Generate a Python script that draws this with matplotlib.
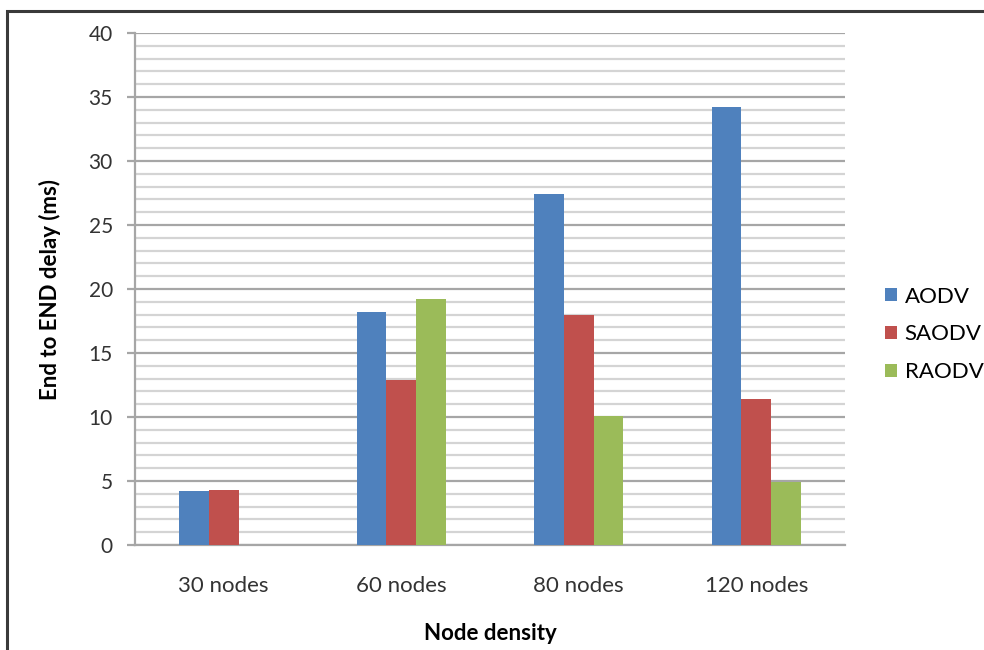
import matplotlib.pyplot as plt
from matplotlib.patches import Rectangle
import numpy as np

plt.rcParams['font.family'] = ['Lato', 'DejaVu Sans']

categories = ["30 nodes", "60 nodes", "80 nodes", "120 nodes"]
aodv = [4.2, 18.2, 27.4, 34.2]
saodv = [4.3, 12.9, 18.0, 11.4]
raodv = [0, 19.2, 10.1, 4.9]

series = [("AODV", aodv, "#4F81BD"),
          ("SAODV", saodv, "#C0504D"),
          ("RAODV", raodv, "#9BBB59")]

fig = plt.figure(figsize=(9.84, 6.5), dpi=100)
ax = fig.add_axes([0.1372, 0.1615, 0.7215, 0.7877])

x = np.arange(len(categories))
w = 1 / 6
for i, (name, vals, col) in enumerate(series):
    ax.bar(x + (i - 1) * w, vals, width=w, color=col, label=name, zorder=3)

ax.set_xlim(-0.5, 3.5)
ax.set_ylim(0, 40)
ax.set_yticks(range(0, 41, 5))
ax.set_yticks(range(0, 41, 1), minor=True)
ax.set_xticks(x)
ax.set_xticklabels(categories, fontsize=16, color="#333333")
ax.tick_params(axis='y', which='major', length=6, width=1.6, color="#a6a6a6",
               labelsize=15, pad=10, labelcolor="#333333")
ax.tick_params(axis='y', which='minor', length=0)
ax.tick_params(axis='x', length=0, pad=22)

ax.grid(axis='y', which='major', color="#a6a6a6", lw=1.6, zorder=0)
ax.grid(axis='y', which='minor', color="#d4d4d4", lw=1.6, zorder=0)

for s in ['top', 'right']:
    ax.spines[s].set_visible(False)
for s in ['left', 'bottom']:
    ax.spines[s].set_color("#a6a6a6")
    ax.spines[s].set_linewidth(1.6)

ax.set_ylabel("End to END delay (ms)", fontsize=16, fontweight='bold', labelpad=20)
ax.set_xlabel("Node density", fontsize=16, fontweight='bold', labelpad=20)

ax.legend(loc='center left', bbox_to_anchor=(0.899, 0.4857),
          bbox_transform=fig.transFigure, frameon=False, borderaxespad=0,
          borderpad=0, fontsize=16, handlelength=0.55, handleheight=0.55,
          handletextpad=0.35, labelspacing=0.8)

# outer frame of the chart area
fig.patches.append(Rectangle((0.007, -0.05), 1.2, 1.033, transform=fig.transFigure,
                             fill=False, edgecolor="#3a3a3a", lw=2.2))

fig.savefig("out.png", dpi=100, facecolor="white")
